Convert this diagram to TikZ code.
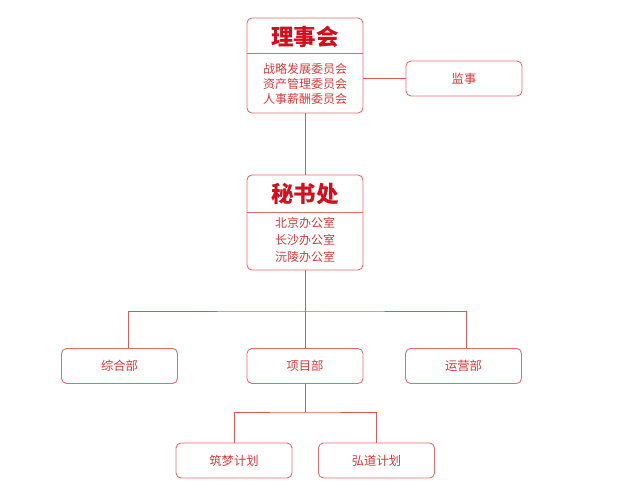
\documentclass[tikz,border=0pt]{standalone}
\usepackage{fontspec}
\newfontfamily\cjk{Noto Sans CJK SC}
\definecolor{bordercol}{HTML}{E56B6B}
\definecolor{linecol}{HTML}{E25555}
\definecolor{titlered}{HTML}{D0101E}
\definecolor{textred}{HTML}{D23A3A}
\begin{document}
\begin{tikzpicture}[x=1pt,y=-1pt,
  box/.style={draw=bordercol, line width=0.9pt, rounded corners=5pt, minimum width=116pt, minimum height=35pt, inner sep=0pt, text=textred, font=\cjk\fontsize{12.3}{14}\selectfont},
  bigtitle/.style={text=titlered, font=\cjk\bfseries\fontsize{22.5}{26}\selectfont, inner sep=0pt},
  sublist/.style={text=textred, align=center, font=\cjk\fontsize{12}{15}\selectfont, inner sep=0pt},
  sublistb/.style={sublist, font=\cjk\fontsize{12}{17}\selectfont},
  conn/.style={draw=linecol, line width=0.8pt}]
\useasboundingbox (0,0) rectangle (639,497);
% board
\node[box, minimum height=95pt] (board) at (305,65.5) {};
\path (board.north west) ++(0,36) coordinate (bdl);
\draw[draw=bordercol, line width=0.9pt] (bdl) -- (bdl -| board.east);
\node[bigtitle] (boardt) at (305,37) {理事会};
\node[sublist] (boardl) at (305,84) {战略发展委员会\\资产管理委员会\\人事薪酬委员会};
% supervisor
\node[box] (js) at (464,78.5) {监事};
% secretariat
\node[box, minimum height=95pt] (sec) at (305,222.5) {};
\path (sec.north west) ++(0,38) coordinate (sdl);
\draw[draw=bordercol, line width=0.9pt] (sdl) -- (sdl -| sec.east);
\node[bigtitle] (sect) at (305,194) {秘书处};
\node[sublistb] (secl) at (305,240) {北京办公室\\长沙办公室\\沅陵办公室};
% departments
\node[box] (zh) at (119.5,366) {综合部};
\node[box] (xm) at (305,366) {项目部};
\node[box] (yy) at (463.5,366) {运营部};
% projects
\node[box] (zm) at (234,460.5) {筑梦计划};
\node[box] (hd) at (376.5,460.5) {弘道计划};
% connectors
\coordinate (bus1) at (305,311);
\coordinate (bus2) at (305,412);
\draw[conn] (board.south) -- (sec.north);
\draw[conn] (js.west) -- (js.west -| board.east);
\draw[conn] (sec.south) -- (xm.north);
\draw[conn] ([xshift=8.5pt]zh.north) |- (bus1) -| ([xshift=2.5pt]yy.north);
\draw[conn] (xm.south) -- (bus2);
\draw[conn] (zm.north) |- (bus2) -| (hd.north);
\end{tikzpicture}
\end{document}
